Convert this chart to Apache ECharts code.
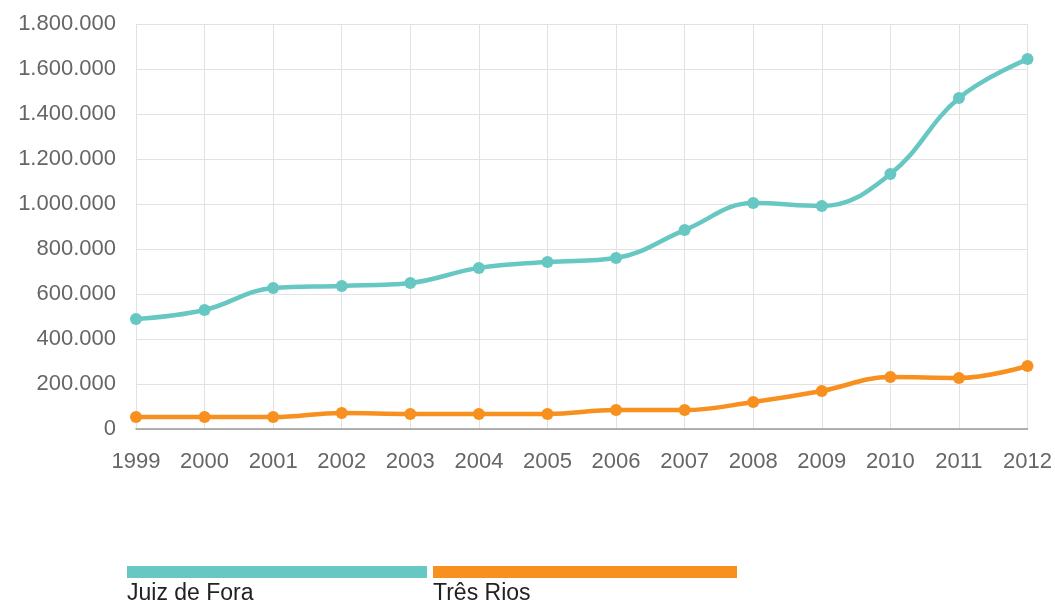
<!DOCTYPE html>
<html><head><meta charset="utf-8">
<script src="https://cdn.jsdelivr.net/npm/echarts@6/dist/echarts.min.js"></script>
<style>html,body{margin:0;padding:0;background:#fff}#c{width:1055px;height:606px}</style>
</head><body><div id="c"></div>
<script>
const years = ['1999','2000','2001','2002','2003','2004','2005','2006','2007','2008','2009','2010','2011','2012'];
const seriesNames = ['Juiz de Fora','Três Rios'];
const juizDeFora = [489000,529000,627000,636000,649000,716000,742000,760000,884000,1004000,991000,1133000,1471000,1644000];
const tresRios = [53000,53000,53000,71000,67000,67000,67000,84000,84000,120000,169000,231000,227000,280000];
const colors = ['#66c7c3','#f7901e'];

const chart = echarts.init(document.getElementById('c'));
const fmt = v => String(v).replace(/\B(?=(\d{3})+(?!\d))/g, '.');
chart.setOption({
  animation:false,
  grid:{left:136,right:26,top:24,bottom:177},
  xAxis:{type:'category',data:years,boundaryGap:false,
    axisLine:{lineStyle:{color:'#999',width:1.5}},axisTick:{show:false},
    axisLabel:{color:'#666',fontSize:22,fontFamily:'Liberation Sans',margin:22},
    splitLine:{show:true,lineStyle:{color:'#e2e2e2'}}},
  yAxis:{type:'value',min:0,max:1800000,interval:200000,
    axisLine:{show:false},axisTick:{show:false},
    axisLabel:{color:'#666',fontSize:22,fontFamily:'Liberation Sans',margin:20,formatter:fmt},
    splitLine:{lineStyle:{color:'#e2e2e2'}}},
  series:[
    {name:seriesNames[0],type:'line',data:juizDeFora,smooth:0.4,symbol:'circle',symbolSize:12,
      lineStyle:{width:4.5,color:colors[0]},itemStyle:{color:colors[0]}},
    {name:seriesNames[1],type:'line',data:tresRios,smooth:0.4,symbol:'circle',symbolSize:12,
      lineStyle:{width:4.5,color:colors[1]},itemStyle:{color:colors[1]}}
  ],
  graphic:[
    {type:'rect',left:127,top:566,shape:{width:300,height:12},style:{fill:colors[0]}},
    {type:'text',left:127,top:582,style:{text:seriesNames[0],fill:'#222',font:'23px Liberation Sans'}},
    {type:'rect',left:433,top:566,shape:{width:304,height:12},style:{fill:colors[1]}},
    {type:'text',left:433,top:582,style:{text:seriesNames[1],fill:'#222',font:'23px Liberation Sans'}}
  ]
});
</script></body></html>
